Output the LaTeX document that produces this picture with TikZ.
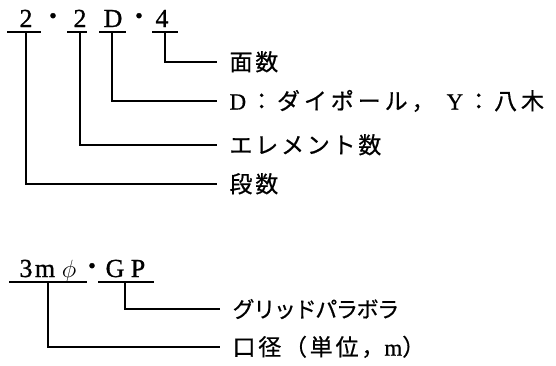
\documentclass[tikz,border=0pt]{standalone}
\usepackage{fontspec}
\setmainfont{Liberation Serif}
\newfontfamily\cjk[LetterSpace=12,FakeBold=0.6]{Noto Sans CJK JP}
\newfontfamily\cjkwide[LetterSpace=17,FakeBold=0.6]{Noto Sans CJK JP}
\newfontfamily\cjkkana[LetterSpace=-6,FakeBold=0.6]{Noto Sans CJK JP}
\newfontfamily\latls[FakeBold=0.6]{Liberation Serif}
\newfontfamily\digfont[FakeBold=1]{Liberation Serif}
\begin{document}
\begin{tikzpicture}[x=1pt,y=-1pt,line width=1.1pt,
  glyph/.style={inner sep=0pt,anchor=base,font=\digfont\fontsize{26}{26}\selectfont},
  middot/.style={inner sep=0pt,anchor=center,font=\digfont\fontsize{22}{22}\selectfont},
  lbl/.style={anchor=west,inner xsep=12pt,inner ysep=0pt,text height=20pt,text depth=3pt,
    font=\cjk\fontsize{23}{23}\selectfont},
  widelbl/.style={lbl,font=\cjkwide\fontsize{23}{23}\selectfont},
  kanalbl/.style={lbl,font=\cjkkana\fontsize{22}{22}\selectfont},
  uline/.style={line width=1.1pt},
  conn/.style={line width=1.1pt}]
\useasboundingbox (0,0) rectangle (556,365);
% ---- upper code: 2 . 2D . 4
\node[glyph] (g1) at (26,27) {2};
\node[middot] (p1) at (53,18) {•};
\node[glyph] (g2) at (80,27) {2};
\node[glyph] (g3) at (113,27) {D};
\node[middot] (p2) at (139,18) {•};
\node[glyph] (g4) at (162,27) {4};
\coordinate (u1a) at (7,32);  \coordinate (u1b) at (41,32);
\coordinate (u2a) at (67,32); \coordinate (u2b) at (87,32);
\coordinate (u3a) at (99,32); \coordinate (u3b) at (126,32);
\coordinate (u4a) at (152,32);\coordinate (u4b) at (178,32);
\draw[uline] (u1a) -- (u1b);
\draw[uline] (u2a) -- (u2b);
\draw[uline] (u3a) -- (u3b);
\draw[uline] (u4a) -- (u4b);
\coordinate (c1) at (26,32);
\coordinate (c2) at (80,32);
\coordinate (c3) at (112,32);
\coordinate (c4) at (165,32);
\node[lbl] (l1) at (217,62) {面数};
\node[widelbl] (l2) at (217,101) {{\latls D}\kern4pt：ダイポール，\kern12pt{\latls Y}\kern4pt：八木};
\node[lbl] (l3) at (217,145) {エレメント数};
\node[lbl] (l4) at (217,184) {段数};
\draw[conn] (c4) |- (l1.west);
\draw[conn] (c3) |- (l2.west);
\draw[conn] (c2) |- (l3.west);
\draw[conn] (c1) |- (l4.west);
% ---- lower code: 3m phi . GP
\node[glyph] (h1) at (26,277) {3};
\node[glyph] (h2) at (45,277) {m};
\node[glyph] (h3) at (69,277) {\(\phi\)};
\node[middot] (p3) at (92,268) {•};
\node[glyph] (h4) at (115,277) {G};
\node[glyph] (h5) at (138,277) {P};
\coordinate (v1a) at (9,282);  \coordinate (v1b) at (87,282);
\coordinate (v2a) at (98,282); \coordinate (v2b) at (154,282);
\draw[uline] (v1a) -- (v1b);
\draw[uline] (v2a) -- (v2b);
\coordinate (c5) at (48,282);
\coordinate (c6) at (125,282);
\node[kanalbl] (l5) at (220,309) {グリッドパラボラ};
\node[lbl] (l6) at (220,347) {口径（単位，{\latls m}）};
\draw[conn] (c6) |- (l5.west);
\draw[conn] (c5) |- (l6.west);
\end{tikzpicture}
\end{document}
